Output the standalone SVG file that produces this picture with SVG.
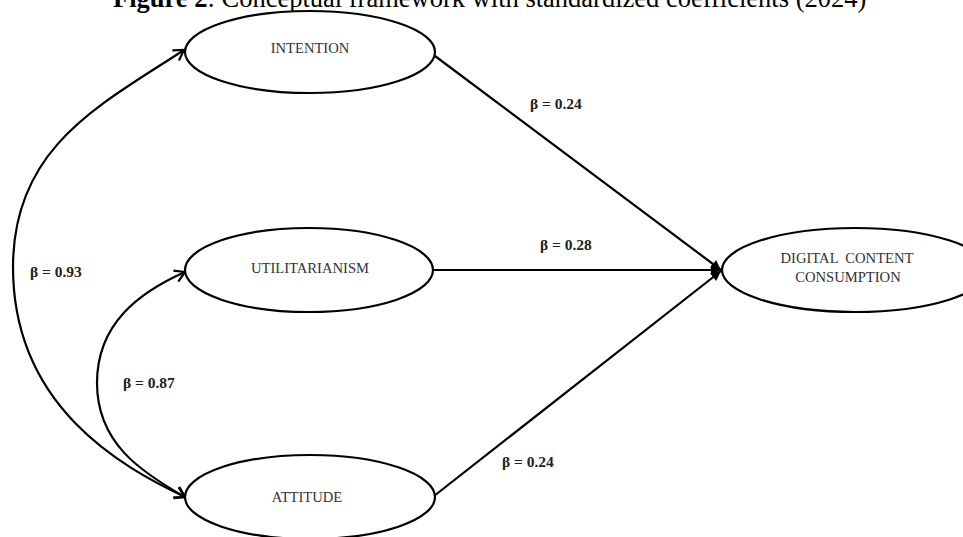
<svg xmlns="http://www.w3.org/2000/svg" width="963" height="537" viewBox="0 0 963 537">
  <defs>
    <style>
      .node ellipse { fill: #ffffff; stroke: #000000; stroke-width: 2.2; }
      .node text { font-family: "Liberation Serif", "Times New Roman", serif; font-size: 14.6px; fill: #333333; text-anchor: middle; }
      .conn { fill: none; stroke: #000000; stroke-width: 2.2; }
      .lbl { font-family: "Liberation Serif", "Times New Roman", serif; font-size: 15.5px; font-weight: bold; fill: #222222; }
      .title { font-family: "Liberation Serif", "Times New Roman", serif; font-size: 26.5px; fill: #000000; }
    </style>
    <marker id="open" markerUnits="userSpaceOnUse" markerWidth="16" markerHeight="16" viewBox="-12 -8 14 16" refX="0" refY="0" orient="auto-start-reverse">
      <path d="M-10,-6 L0,0 L-10,6" fill="none" stroke="#000" stroke-width="2.2" stroke-linejoin="miter"/>
    </marker>
    <marker id="filled" markerUnits="userSpaceOnUse" markerWidth="16" markerHeight="16" viewBox="-12 -8 14 16" refX="0" refY="0" orient="auto">
      <path d="M-10,-5 L0,0 L-10,5 Z" fill="#000" stroke="none"/>
    </marker>
  </defs>
  <rect width="963" height="537" fill="#ffffff"/>

  <text class="title" x="113" y="7"><tspan font-weight="bold">Figure 2</tspan>: Conceptual framework with standardized coefficients (2024)</text>

  <g id="connectors">
    <line class="conn" x1="435" y1="56" x2="721" y2="270" marker-end="url(#filled)"/>
    <line class="conn" x1="433" y1="270" x2="721" y2="270" marker-end="url(#filled)"/>
    <line class="conn" x1="434" y1="496" x2="721" y2="271" marker-end="url(#filled)"/>
    <path class="conn" d="M184,50 C100,105 13,147 13,267 C13,407 122,467 185,497" marker-start="url(#open)" marker-end="url(#open)"/>
    <path class="conn" d="M185,272 C140,292 97,323 97,383 C97,443 141,472 185,497" marker-start="url(#open)" marker-end="url(#open)"/>
    <text class="lbl" x="530" y="109">β = 0.24</text>
    <text class="lbl" x="540" y="250">β = 0.28</text>
    <text class="lbl" x="502" y="467">β = 0.24</text>
    <text class="lbl" x="30" y="277">β = 0.93</text>
    <text class="lbl" x="123" y="388">β = 0.87</text>
  </g>

  <g id="intention" class="node">
    <ellipse cx="310" cy="52" rx="125" ry="41"/>
    <text x="310" y="53">INTENTION</text>
  </g>
  <g id="utilitarianism" class="node">
    <ellipse cx="309" cy="270" rx="124" ry="42"/>
    <text x="310" y="273">UTILITARIANISM</text>
  </g>
  <g id="attitude" class="node">
    <ellipse cx="310" cy="497" rx="125" ry="42"/>
    <text x="307" y="502">ATTITUDE</text>
  </g>
  <g id="dcc" class="node">
    <ellipse cx="855" cy="270" rx="133" ry="42"/>
    <text x="847" y="263" xml:space="preserve">DIGITAL  CONTENT</text>
    <text x="848" y="282">CONSUMPTION</text>
  </g>
</svg>
